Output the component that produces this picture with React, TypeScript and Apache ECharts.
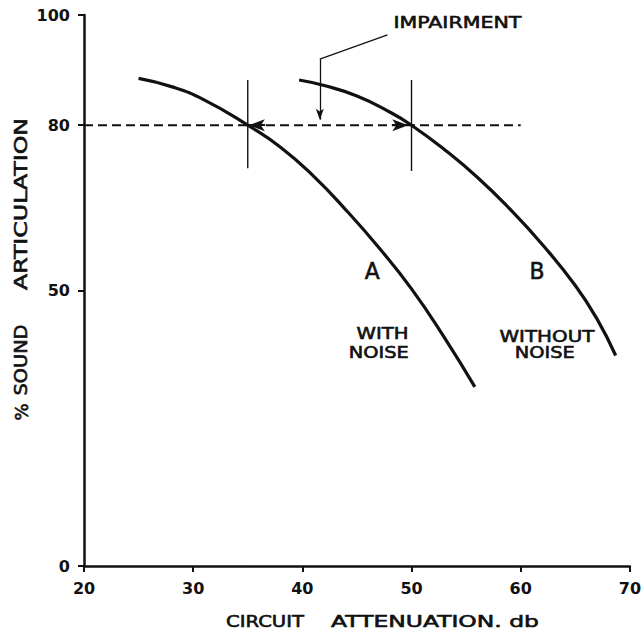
import React, { useEffect, useRef } from "react";
import * as echarts from "echarts";

// ---- data ----
const xTicks = [20, 30, 40, 50, 60, 70];
const yTicks = [0, 50, 80, 100];
// Curve A: with noise
const curveA: number[][] = [
  [25, 88.5], [28, 87.0], [31, 84.6], [35, 80], [38, 76.0], [41, 70.8],
  [44, 64.6], [47, 57.8], [50, 50.3], [53, 41.5], [55.8, 32.5],
];
// Curve B: without noise
const curveB: number[][] = [
  [39.7, 88.2], [42, 87.2], [45, 85.3], [48, 82.4], [50, 80], [53, 75.6],
  [56, 70.6], [59, 64.8], [62, 58.3], [65, 50.9], [67, 44.8], [68.7, 38.2],
];
const criterion: number[][] = [[20, 80], [60, 80]];
const markerA: number[][] = [[35, 88.2], [35, 72.2]];
const markerB: number[][] = [[50, 88.2], [50, 71.7]];
const leader: number[][] = [[41.6, 92], [47.8, 96.4]];
const impairArrow: number[][] = [[41.6, 92], [41.6, 81.0]];
const arrowLeft: number[][] = [[36.6, 80], [35.1, 80]];
const arrowRight: number[][] = [[48.2, 80], [49.7, 80]];

// annotation texts anchored in data space: [text, x, y, fontSize, targetWidth]
const dataLabels: [string, number, number, number, number][] = [
  ["IMPAIRMENT", 54.2, 98.7, 16, 128],
  ["A", 46.4, 53.5, 23, 15],
  ["B", 61.5, 53.5, 23, 15],
  ["WITH", 47.35, 42.3, 16, 52],
  ["NOISE", 47.0, 38.8, 16, 60],
  ["WITHOUT", 62.4, 41.7, 16, 95],
  ["NOISE", 62.2, 38.7, 16, 60],
];

const FONT = "DejaVu Sans";
const INK = "#111111";

function measure(text: string, size: number): number {
  const c = document.createElement("canvas");
  const ctx = c.getContext("2d");
  if (!ctx) return text.length * size * 0.65;
  ctx.font = `${size}px "${FONT}"`;
  return ctx.measureText(text).width;
}

function textEl(text: string, x: number, y: number, size: number, width: number, rotation = 0) {
  const w = measure(text, size);
  const s = width > 0 ? width / w : 1;
  return {
    type: "text",
    x,
    y,
    rotation,
    scaleX: s,
    scaleY: 1,
    silent: true,
    style: {
      text,
      x: 0,
      y: 0,
      fill: INK,
      stroke: INK,
      lineWidth: 0.6,
      fontSize: size,
      fontFamily: FONT,
      align: "center",
      verticalAlign: "middle",
      textAlign: "center",
      textVerticalAlign: "middle",
    },
  };
}

export default function App() {
  const ref = useRef<HTMLDivElement>(null);
  useEffect(() => {
    if (!ref.current) return;
    const chart = echarts.init(ref.current, null, { renderer: "svg" });
    const lineBase = (data: number[][], width: number, type: any = "solid") => ({
      type: "line",
      data,
      symbol: "none",
      silent: true,
      lineStyle: { color: INK, width, type },
    });
    const arrowSeries = (pairs: number[][][], width: number, size: number[]) => ({
      type: "line",
      data: [],
      silent: true,
      markLine: {
        silent: true,
        animation: false,
        symbol: ["none", "arrow"],
        symbolSize: size,
        label: { show: false },
        lineStyle: { color: INK, width, type: "solid" },
        data: pairs.map((p) => [{ coord: p[0] }, { coord: p[1] }]),
      },
    });
    chart.setOption({
      animation: false,
      backgroundColor: "#ffffff",
      grid: { left: 84, top: 15, width: 552, height: 551, containLabel: false },
      xAxis: {
        type: "value",
        min: xTicks[0],
        max: xTicks[xTicks.length - 1],
        interval: 10,
        axisLine: { show: true, lineStyle: { color: INK, width: 2.5 } },
        axisTick: { show: true, inside: false, length: 6, lineStyle: { color: INK, width: 2 } },
        axisLabel: { color: INK, fontSize: 16, fontWeight: "bold", fontFamily: FONT, margin: 14 },
        splitLine: { show: false },
      },
      yAxis: {
        type: "value",
        min: 0,
        max: 100,
        interval: 10,
        axisLine: { show: true, lineStyle: { color: INK, width: 2.5 } },
        axisTick: { show: true, inside: false, length: 6, customValues: yTicks, lineStyle: { color: INK, width: 2 } },
        axisLabel: { color: INK, fontSize: 16, fontWeight: "bold", fontFamily: FONT, margin: 14, customValues: yTicks },
        splitLine: { show: false },
      },
      series: [
        { ...lineBase(curveA, 3.2), smooth: 0.5 },
        { ...lineBase(curveB, 3.2), smooth: 0.5 },
        lineBase(criterion, 2, [9, 5]),
        lineBase(markerA, 1.4),
        lineBase(markerB, 1.4),
        lineBase(leader, 1.2),
        arrowSeries([arrowLeft, arrowRight], 2, [9, 16]),
        arrowSeries([impairArrow], 1.3, [6, 11]),
      ],
    });

    const graphics: any[] = [];
    for (const [t, dx, dy, fs, w] of dataLabels) {
      const p = chart.convertToPixel({ gridIndex: 0 }, [dx, dy]) as number[];
      graphics.push(textEl(t, p[0], p[1], fs, w));
    }
    // axis titles
    graphics.push(textEl("CIRCUIT", 265, 621, 16, 78));
    graphics.push(textEl("ATTENUATION. db", 435, 621, 16, 208));
    graphics.push(textEl("ARTICULATION", 21, 204, 17, 172, Math.PI / 2));
    graphics.push(textEl("SOUND", 21, 360, 17, 71, Math.PI / 2));
    graphics.push(textEl("%", 21, 412, 18, 0, Math.PI / 2));
    chart.setOption({ graphic: graphics });

    return () => chart.dispose();
  }, []);
  return (
    <div
      ref={ref}
      style={{ position: "fixed", left: 0, top: 0, width: 644, height: 631, background: "#fff" }}
    />
  );
}
